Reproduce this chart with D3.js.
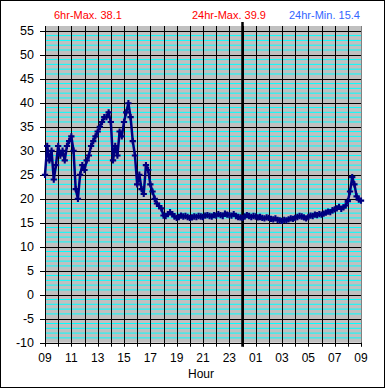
<!DOCTYPE html>
<html>
<head>
<meta charset="utf-8">
<script src="https://cdn.jsdelivr.net/npm/d3@7"></script>
<style>
  html, body { margin: 0; padding: 0; background: #fff; }
  svg { display: block; font-family: "Liberation Sans", Arial, sans-serif; }
</style>
</head>
<body>
<svg id="chart" width="385" height="388"></svg>
<script>
// temperature readings, one every 10 minutes from 09:00 to 09:00 next day
const TEMPS = [
  25, 31, 28, 30, 24, 27, 31, 29, 30, 28, 31, 32,
  33, 30, 22, 20, 25, 27, 26, 28, 29, 31, 32, 33,
  34, 35, 36, 37, 37, 38, 36, 28, 31, 29, 34, 33,
  36, 38, 39.9, 37, 32, 29, 23, 25, 22, 21, 27, 26,
  23, 21.5, 20, 19, 18.5, 18, 16.5, 16.4, 16.8, 17.2, 16.8, 16.3,
  16, 16.2, 16.5, 16.3, 16.4, 16.2, 16.0, 16.1, 16.3, 16.2, 16.4, 16.3,
  16.2, 16.5, 16.6, 16.4, 16.3, 16.6, 16.5, 16.8, 16.6, 16.4, 16.9, 16.7,
  16.6, 16.5, 16.8, 16.4, 16.2, 16.1, 16.0, 16.3, 16.6, 16.4, 16.2, 16.4,
  16.3, 16.1, 16.2, 16.0, 15.9, 16.1, 16.0, 15.8, 15.7, 15.9, 15.6, 15.5,
  15.4, 15.6, 15.5, 15.7, 15.9, 15.8, 16.0, 16.2, 16.4, 16.3, 16.1, 15.9,
  16.2, 16.5, 16.4, 16.7, 16.6, 16.8, 16.7, 16.9, 17.1, 17.3, 17.2, 17.6,
  17.8, 18.0, 18.3, 17.9, 18.2, 18.6, 19.5, 21.5, 24.5, 23, 20.5, 19.8,
  19.6
];
const STEP_MIN = 10;

const Y_TICKS = [-10, -5, 0, 5, 10, 15, 20, 25, 30, 35, 40, 45, 50, 55];
const HOUR_LABELS = ['09','11','13','15','17','19','21','23','01','03','05','07','09'];

const HEADER = [
  { text: '6hr-Max. 38.1',  color: '#ff0000' },
  { text: '24hr-Max. 39.9', color: '#ff0000' },
  { text: '24hr-Min. 15.4', color: '#3366ff' }
];

const svg = d3.select('#chart');
const L = 45, R = 361, T = 26, B = 342.7;

const x = d3.scaleLinear().domain([0, 24]).range([L, R]);
const y = d3.scaleLinear().domain([-10, 56]).range([B, T]);

// outer frame
svg.append('rect')
  .attr('x', 0.5).attr('y', 0.5).attr('width', 384).attr('height', 387)
  .attr('fill', '#fff').attr('stroke', '#000');

// plot background
svg.append('rect')
  .attr('x', L).attr('y', T).attr('width', R - L).attr('height', B - T)
  .attr('fill', '#c0c0c0');

// minor grid (every degree)
const minor = d3.range(-9, 56).filter(v => v % 5 !== 0);
svg.append('g').selectAll('line')
  .data(minor).join('line')
  .attr('x1', L).attr('x2', R)
  .attr('y1', d => y(d)).attr('y2', d => y(d))
  .attr('stroke', '#00ffff').attr('stroke-width', 1);

// major grid
svg.append('g').selectAll('line')
  .data(Y_TICKS).join('line')
  .attr('x1', L - 5).attr('x2', R)
  .attr('y1', d => Math.round(y(d)) + 0.5).attr('y2', d => Math.round(y(d)) + 0.5)
  .attr('stroke', '#000');

// hour lines + ticks
svg.append('g').selectAll('line')
  .data(d3.range(0, 25)).join('line')
  .attr('x1', d => Math.round(x(d)) + 0.5).attr('x2', d => Math.round(x(d)) + 0.5)
  .attr('y1', T).attr('y2', B + 4)
  .attr('stroke', d => d === 24 ? '#808080' : '#000');

// right tick at 09
svg.append('line')
  .attr('x1', Math.round(x(24)) + 0.5).attr('x2', Math.round(x(24)) + 0.5)
  .attr('y1', B).attr('y2', B + 4).attr('stroke', '#000');

// midnight marker
svg.append('line')
  .attr('x1', x(15)).attr('x2', x(15))
  .attr('y1', T - 4).attr('y2', B + 4)
  .attr('stroke', '#000').attr('stroke-width', 2.5);

// y labels
svg.append('g').selectAll('text')
  .data(Y_TICKS).join('text')
  .attr('x', 34).attr('y', d => y(d) + 4.5)
  .attr('text-anchor', 'end').attr('font-size', 12.5)
  .text(d => d);

// x labels
svg.append('g').selectAll('text')
  .data(HOUR_LABELS).join('text')
  .attr('x', (d, i) => x(i * 2)).attr('y', 362)
  .attr('text-anchor', 'middle').attr('font-size', 12)
  .text(d => d);

svg.append('text')
  .attr('x', 201).attr('y', 378)
  .attr('text-anchor', 'middle').attr('font-size', 12)
  .text('Hour');

// header stats
const headerX = [54, 192, 289];
svg.append('g').selectAll('text')
  .data(HEADER).join('text')
  .attr('x', (d, i) => headerX[i]).attr('y', 19)
  .attr('font-size', 11).attr('fill', d => d.color)
  .text(d => d.text);

// temperature series
const pts = TEMPS.map((v, i) => [x(i * STEP_MIN / 60), y(v)]);
svg.append('path')
  .attr('d', d3.line()(pts))
  .attr('fill', 'none').attr('stroke', '#000080').attr('stroke-width', 2.5)
  .attr('stroke-linejoin', 'round');

svg.append('g').selectAll('path')
  .data(pts).join('path')
  .attr('d', d3.symbol(d3.symbolCross, 22)())
  .attr('transform', d => `translate(${d[0]},${d[1]})`)
  .attr('fill', '#000080');
</script>
</body>
</html>
